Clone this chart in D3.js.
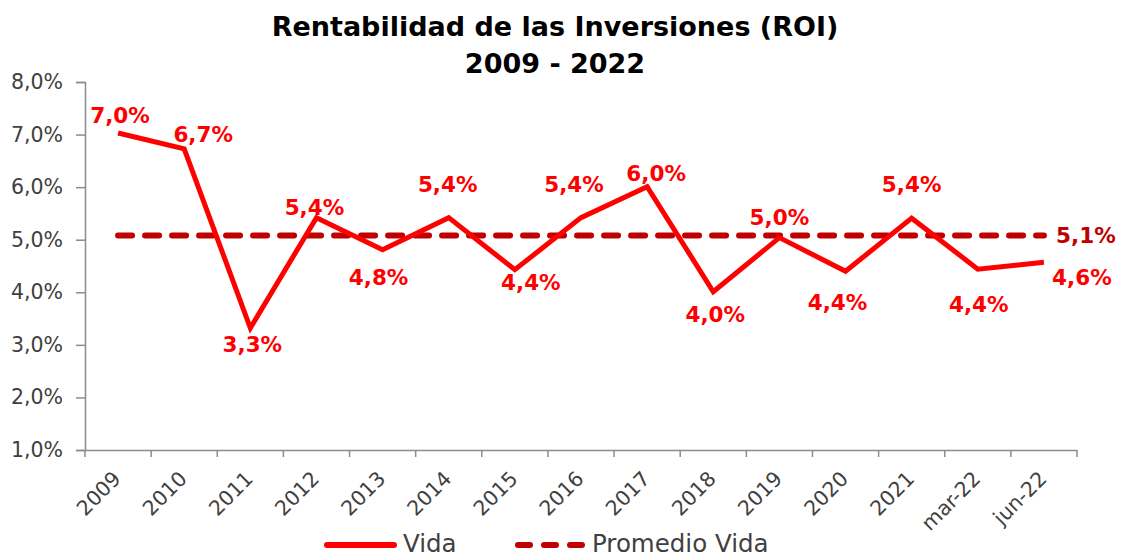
<!DOCTYPE html>
<html>
<head>
<meta charset="utf-8">
<script src="https://cdn.jsdelivr.net/npm/d3@7"></script>
<style>
  body { margin: 0; background: #fff; }
  svg { font-family: "DejaVu Sans", sans-serif; }
</style>
</head>
<body>
<svg id="chart"></svg>
<script>
const categories = ["2009", "2010", "2011", "2012", "2013", "2014", "2015", "2016", "2017", "2018", "2019", "2020", "2021", "mar-22", "jun-22"];
const vida = [0.0703, 0.0673, 0.0332, 0.0542, 0.0481, 0.0542, 0.0443, 0.0542, 0.0601, 0.0401, 0.0504, 0.0440, 0.0541, 0.0444, 0.0457];
const promedio = 0.0508;
const yTicks = [0.01, 0.02, 0.03, 0.04, 0.05, 0.06, 0.07, 0.08];
// label placement for each point: [dx, dy] from the point
const labelOffsets = [[2, -10], [19, -7], [2, 24], [-2, -3], [-4, 35], [-1, -26], [16, 20], [-7, -26], [9, -6], [2, 30], [0, -13], [-8, 39], [0, -26], [1, 43], [38, 23]];

const width = 1122;
const height = 558;
const margin = { top: 82, right: 45, bottom: 108, left: 85 };

const locale = d3.formatLocale({ decimal: ",", thousands: ".", grouping: [3], currency: ["", "€"], percent: "%" });
const pct = locale.format(".1%");

const svg = d3.select("#chart")
  .attr("width", width)
  .attr("height", height);

const x = d3.scaleBand()
  .domain(categories)
  .range([margin.left, width - margin.right])
  .padding(0);

const y = d3.scaleLinear()
  .domain([0.01, 0.08])
  .range([height - margin.bottom, margin.top]);

const cx = d => x(d) + x.bandwidth() / 2;
const axisColor = "#8c8c8c";

// title
svg.append("text")
  .attr("x", 555).attr("y", 36)
  .attr("text-anchor", "middle")
  .attr("font-size", 27).attr("font-weight", "bold").attr("fill", "#000")
  .text("Rentabilidad de las Inversiones (ROI)");
svg.append("text")
  .attr("x", 555).attr("y", 73)
  .attr("text-anchor", "middle")
  .attr("font-size", 27).attr("font-weight", "bold").attr("fill", "#000")
  .text("2009 - 2022");

// y axis
const yAxis = svg.append("g")
  .attr("transform", `translate(${margin.left},0)`)
  .call(d3.axisLeft(y).tickValues(yTicks).tickFormat(pct).tickSize(9).tickPadding(13));
yAxis.select(".domain").attr("stroke", axisColor).attr("stroke-width", 1.5);
yAxis.selectAll(".tick line").attr("stroke", axisColor).attr("stroke-width", 1.5);
yAxis.selectAll(".tick text")
  .attr("font-size", 20.5).attr("fill", "#404040")
  .attr("font-family", "DejaVu Sans, sans-serif");

// x axis
const xAxis = svg.append("g")
  .attr("transform", `translate(0,${height - margin.bottom})`)
  .call(d3.axisBottom(x).tickSize(0).tickPadding(0).tickSizeOuter(0));
xAxis.select(".domain").attr("stroke", axisColor).attr("stroke-width", 1.5);
xAxis.selectAll(".tick text")
  .attr("font-size", 20.5).attr("fill", "#404040")
  .attr("font-family", "DejaVu Sans, sans-serif")
  .attr("text-anchor", "end")
  .attr("dy", null)
  .attr("transform", "translate(4,30) rotate(-45)");

xAxis.selectAll(".boundary")
  .data(categories.map(d => x(d)).concat([x.range()[1]]))
  .enter()
  .append("line")
  .attr("class", "boundary")
  .attr("x1", d => d).attr("x2", d => d)
  .attr("y1", 0).attr("y2", 7)
  .attr("stroke", axisColor).attr("stroke-width", 1.5);

// average line
svg.append("line")
  .attr("x1", cx(categories[0]))
  .attr("x2", cx(categories[categories.length - 1]))
  .attr("y1", y(promedio)).attr("y2", y(promedio))
  .attr("stroke", "#c00000")
  .attr("stroke-width", 6)
  .attr("stroke-linecap", "round")
  .attr("stroke-dasharray", "14 13");

// vida line
const line = d3.line()
  .x((d, i) => cx(categories[i]))
  .y(d => y(d));

svg.append("path")
  .datum(vida)
  .attr("fill", "none")
  .attr("stroke", "#ff0000")
  .attr("stroke-width", 5)
  .attr("stroke-linejoin", "miter")
  .attr("d", line);

// data labels
svg.selectAll(".vlabel")
  .data(vida)
  .enter()
  .append("text")
  .attr("class", "vlabel")
  .attr("x", (d, i) => cx(categories[i]) + labelOffsets[i][0])
  .attr("y", (d, i) => y(d) + labelOffsets[i][1])
  .attr("text-anchor", "middle")
  .attr("font-size", 21.5).attr("font-weight", "bold")
  .attr("fill", "#ff0000")
  .text(d => pct(d));

svg.append("text")
  .attr("x", cx(categories[categories.length - 1]) + 42)
  .attr("y", y(promedio) + 7)
  .attr("text-anchor", "middle")
  .attr("font-size", 21.5).attr("font-weight", "bold")
  .attr("fill", "#c00000")
  .text(pct(promedio));

// legend
const legend = svg.append("g").attr("transform", "translate(0,545)");
legend.append("line")
  .attr("x1", 327).attr("x2", 394).attr("y1", 0).attr("y2", 0)
  .attr("stroke", "#ff0000").attr("stroke-width", 6).attr("stroke-linecap", "round");
legend.append("text")
  .attr("x", 403).attr("y", 7)
  .attr("font-size", 24.5).attr("fill", "#404040")
  .text("Vida");
legend.append("line")
  .attr("x1", 518).attr("x2", 584).attr("y1", 0).attr("y2", 0)
  .attr("stroke", "#c00000").attr("stroke-width", 6).attr("stroke-linecap", "round")
  .attr("stroke-dasharray", "12 14");
legend.append("text")
  .attr("x", 592).attr("y", 7)
  .attr("font-size", 24.5).attr("fill", "#404040")
  .text("Promedio Vida");
</script>
</body>
</html>
